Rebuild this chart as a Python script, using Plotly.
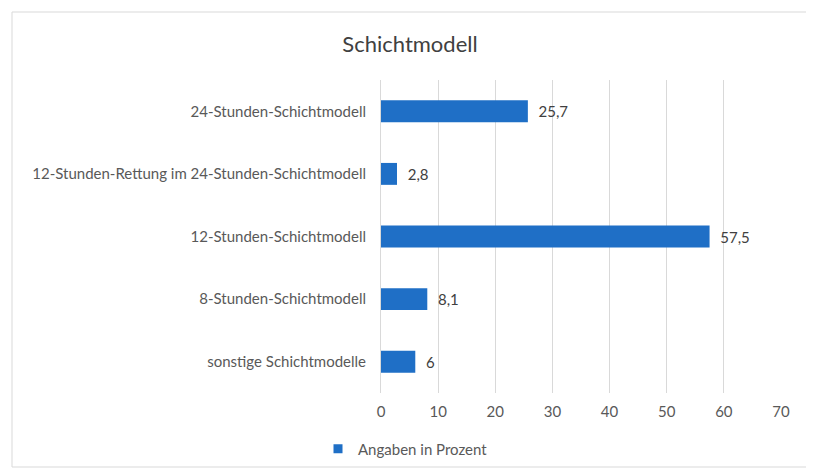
import plotly.graph_objects as go

categories = [
    "sonstige Schichtmodelle",
    "8-Stunden-Schichtmodell",
    "12-Stunden-Schichtmodell",
    "12-Stunden-Rettung im 24-Stunden-Schichtmodell",
    "24-Stunden-Schichtmodell",
]
values = [6, 8.1, 57.5, 2.8, 25.7]
series_name = "Angaben in Prozent"
x_ticks = [0, 10, 20, 30, 40, 50, 60, 70]

labels = ["  " + ("%g" % v).replace(".", ",") for v in values]

BAR = "#1f6fc6"
FONT = "Lato, 'Open Sans', sans-serif"
OFF = 8  # page body margin
fig = go.Figure()
fig.add_trace(go.Bar(
    y=categories, x=values, orientation="h", name=series_name,
    marker=dict(color=BAR, line=dict(width=0)),
    text=labels, textposition="outside", cliponaxis=False,
    textfont=dict(family=FONT, size=15, color="#404040"),
    showlegend=False,
))
fig.add_trace(go.Scatter(
    x=[None], y=[None], mode="markers", name=series_name,
    marker=dict(symbol="square", size=9, color=BAR), showlegend=True,
))

W, H = 814 - OFF, 472 - OFF
# target screen coordinates of plot area
SL, SR, ST, SB = 381, 781, 80, 393
L, T = SL - OFF, ST - OFF
R, B = W - (SR - OFF), H - (SB - OFF)
pw, ph = W - L - R, H - T - B
def px(x): return (x - SL) / pw
def py(y): return (SB - y) / ph

fig.add_shape(type="rect", xref="paper", yref="paper",
              x0=px(12), x1=px(808), y0=py(467), y1=py(12),
              line=dict(color="#d9d9d9", width=1), layer="below")

fig.update_layout(
    width=W, height=H,
    margin=dict(l=L, r=R, t=T, b=B, pad=0, autoexpand=False),
    paper_bgcolor="white", plot_bgcolor="white",
    font=dict(family=FONT, size=15, color="#595959"),
    title=dict(text="Schichtmodell", x=(410 - OFF) / W, xref="container", xanchor="center",
               y=1 - (44 - OFF) / H, yref="container", yanchor="middle",
               font=dict(family=FONT, size=22, color="#404040")),
    bargap=0.65,
    xaxis=dict(range=[0, 70], tickvals=x_ticks, showgrid=True, gridcolor="#d9d9d9",
               gridwidth=1, zeroline=False, showline=False, ticks="",
               ticklabelstandoff=8, automargin=False,
               tickfont=dict(size=15, color="#595959")),
    yaxis=dict(showline=True, linecolor="#d9d9d9", linewidth=1, ticks="",
               ticklabelstandoff=11, showgrid=False, automargin=False,
               tickfont=dict(size=15, color="#595959")),
    legend=dict(orientation="h", x=px(318), xanchor="left", y=py(449), yanchor="middle",
                font=dict(size=15, color="#595959"), itemwidth=30),
)

fig.write_html("out.html")
